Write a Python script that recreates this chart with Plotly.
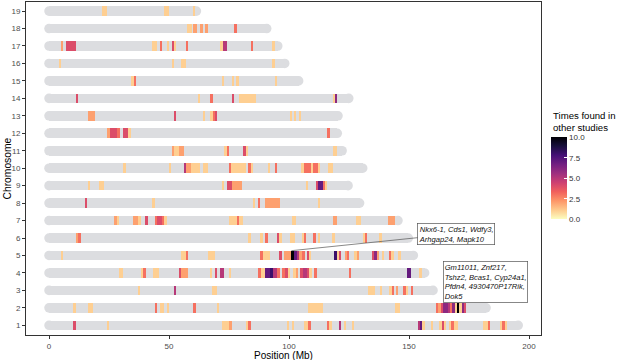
import plotly.graph_objects as go

chromosomes = list(range(1, 20))
chrom_length_mb = [195.5, 182.1, 160.0, 156.5, 151.8, 149.7, 145.4, 129.4, 124.6, 130.7,
                   122.1, 120.1, 120.4, 124.9, 104.0, 98.2, 95.3, 90.7, 61.4]

# (start Mb, end Mb, times found in other studies)
seg_chr1 = [(10.1, 11.1, 4), (24, 25, 1), (72.1, 75.1, 1), (75.1, 76.1, 2), (82.1, 83.1, 1), (83.1, 84, 3),
            (99, 100.1, 1), (101.3, 102.2, 1), (106.3, 108.1, 1), (108.1, 109, 3), (115.8, 116.8, 3),
            (116.8, 117.8, 1), (120.8, 121.8, 5), (122.8, 123.7, 1), (126.1, 127.1, 1), (153.6, 154.6, 5),
            (154.6, 155.6, 7), (155.6, 156.7, 1), (159, 160, 1), (162.6, 163.6, 1), (163.6, 164.6, 4),
            (164.6, 165.6, 1), (166.7, 167.6, 1), (167.6, 168.6, 3), (168.6, 170.5, 1), (181, 182.8, 1),
            (182.8, 183.8, 3), (187.9, 188.9, 1), (188.9, 190, 3), (190, 191, 1)]
seg_chr2 = [(10.1, 11.1, 1), (16.4, 18.2, 1), (44.2, 45.1, 3), (46.1, 48.1, 1), (49, 50, 1), (60.1, 61.1, 3),
            (70.1, 71, 1), (108, 114.3, 1), (144.2, 146.3, 1), (161.1, 162.2, 3), (162.2, 163.2, 2),
            (163.2, 164.2, 4), (164.2, 166.1, 6), (166.1, 167.1, 5), (167.1, 168.1, 3), (168.1, 169.2, 6),
            (169.2, 169.9, 1), (169.9, 171, 10), (171, 172, 1), (172, 173, 6), (173, 173.9, 4)]
seg_chr3 = [(37.1, 38.1, 1), (52.1, 53.1, 5), (68.1, 70, 1), (133, 136, 1), (137.9, 138.9, 1),
            (141.8, 142.8, 1), (142.8, 143.7, 3), (144.6, 145.6, 2), (147.6, 148.6, 3), (148.6, 149.6, 1),
            (150.8, 151.8, 3)]
seg_chr4 = [(29, 31, 1), (38.3, 39.3, 1), (39.3, 40.3, 3), (43.2, 46, 1), (54.2, 55.1, 4), (55.1, 58.1, 2),
            (67.1, 68.1, 1), (69.2, 69.9, 4), (71.25, 73.1, 5), (75, 76, 1), (87.2, 88.2, 3), (88.2, 90.1, 1),
            (90.1, 92.1, 7), (92.1, 93.2, 8), (93.2, 95.1, 5), (95.1, 96.25, 3), (97, 98.3, 3), (98.3, 99.4, 4),
            (99.4, 100.4, 1), (101.8, 102.8, 1), (102.8, 103.9, 2), (104.7, 105.7, 4), (105.7, 107.6, 5),
            (107.6, 108.5, 4), (108.5, 109.4, 1), (110.6, 111.5, 3), (125, 126, 3), (149, 150.8, 7),
            (154.3, 155.3, 1)]
seg_chr5 = [(4.9, 5.8, 1), (55.1, 57.1, 1), (57.1, 58.1, 3), (66.1, 69, 1), (88, 89, 3), (89, 92.1, 1),
            (96, 97, 4), (97.9, 101, 2), (101, 102, 10), (102, 103.2, 7), (103.2, 104.2, 5), (104.2, 105.3, 2),
            (105.3, 106.7, 3), (107.4, 108.3, 4), (108.3, 109.3, 1), (118.9, 119.9, 8), (119.9, 120.8, 1),
            (120.8, 121.8, 4), (123.3, 124.3, 2), (124.3, 125.1, 3), (127.2, 128.2, 1), (128.2, 129.2, 2),
            (134.4, 135.6, 4), (135.6, 136.5, 6), (136.5, 137.5, 2), (138.6, 139.6, 1), (141.7, 142.6, 3),
            (142.6, 143.6, 1), (145.6, 146.5, 1)]
seg_chr6 = [(11.25, 12.2, 2), (12.2, 13.2, 3), (83.1, 84, 1), (88, 89, 1), (90.1, 91.1, 3), (95, 96, 4),
            (96, 97, 1), (100.4, 102.5, 1), (105.3, 106.3, 1), (106.3, 107.2, 3), (110.1, 111.1, 3),
            (112.2, 113, 1), (118, 119, 1), (130.7, 131.7, 1), (131.7, 132.6, 3), (137.6, 138.6, 1)]
seg_chr7 = [(27.1, 28.2, 2), (28.2, 29.2, 1), (35.1, 37.2, 2), (37.2, 38.2, 1), (40.1, 41.1, 4),
            (44.2, 45.1, 3), (45.1, 47.1, 4), (47.1, 48.1, 3), (48.1, 49, 1), (75.1, 78.2, 1), (78.2, 79.2, 3),
            (79.2, 81, 1), (101.1, 103, 1), (118.2, 120.1, 2), (128, 130, 1), (141.1, 144.2, 2)]
seg_chr8 = [(15, 16, 4), (43, 44.2, 1), (85, 86, 1), (87, 88, 3), (90, 96.25, 2), (111.9, 112.9, 1)]
seg_chr9 = [(16.1, 17.1, 1), (21, 23, 1), (72, 73.1, 1), (74, 76.1, 4), (76.1, 80.3, 2), (107, 108, 1),
            (111.1, 112.1, 4), (112.1, 114, 7), (114, 115, 3), (115, 116, 1)]
seg_chr10 = [(31, 32, 1), (50, 51, 1), (56.1, 57.1, 5), (57.1, 59, 2), (59, 63.1, 1), (64.2, 66.1, 1),
             (75, 76, 3), (76, 82.1, 1), (83.1, 84, 3), (84, 85.1, 1), (91.1, 92.1, 1), (94, 95, 3),
             (105, 106.1, 1), (106.1, 107.1, 3), (107.1, 109, 3), (109, 110, 1), (110, 112, 3), (112, 113, 1),
             (116.1, 118.2, 1)]
seg_chr11 = [(51.1, 52.2, 2), (52.2, 54.2, 1), (54.2, 56.1, 2), (73.1, 74, 1), (74, 75, 3), (81, 82, 4),
             (82, 83, 1), (118.2, 120.1, 1)]
seg_chr12 = [(24, 25.4, 2), (25.4, 28.5, 4), (28.5, 29.6, 3), (31, 33, 4), (33, 34, 1), (116, 117, 3)]
seg_chr13 = [(16.1, 19.2, 2), (52.1, 53.1, 4), (64.2, 65.1, 1), (67.2, 68.2, 1), (68.2, 69.2, 3),
             (69.2, 70.1, 4), (100.2, 101.2, 1), (102.1, 103.1, 1), (104.1, 105.1, 1)]
seg_chr14 = [(11.1, 12.1, 4), (62.1, 63.1, 1), (67.2, 68.2, 3), (76.1, 77.1, 4), (79.2, 86.25, 1),
             (118.5, 119.2, 1), (119.2, 120.1, 6)]
seg_chr15 = [(34.3, 35.3, 1), (35.3, 36.3, 3), (72.1, 73.1, 1), (76.1, 77.1, 1), (78.1, 79, 1), (94, 95, 1)]
seg_chr16 = [(4.2, 5.1, 1), (51.3, 52.2, 1), (55.1, 57.1, 1), (93, 94, 1)]
seg_chr17 = [(5, 6, 2), (7.1, 11.1, 4), (43.1, 45.1, 1), (46.1, 47.1, 3), (49.2, 50.1, 1), (51.1, 52.1, 4),
             (52.1, 53, 1), (57.1, 58.1, 3), (71.3, 72.6, 1), (72.6, 74, 5), (84.2, 85.1, 3), (93, 94, 1)]
seg_chr18 = [(57.4, 59.4, 1), (60.1, 61.5, 2), (63.1, 64, 2), (65.1, 66.1, 2), (77.2, 78.2, 3)]
seg_chr19 = [(22.2, 24.3, 1), (48.1, 50.1, 1), (60.1, 61, 1)]

segments_by_chrom = [seg_chr1, seg_chr2, seg_chr3, seg_chr4, seg_chr5, seg_chr6, seg_chr7, seg_chr8,
                     seg_chr9, seg_chr10, seg_chr11, seg_chr12, seg_chr13, seg_chr14, seg_chr15,
                     seg_chr16, seg_chr17, seg_chr18, seg_chr19]

x_ticks = [0, 50, 100, 150, 200]
cbar_ticks = [0, 2.5, 5, 7.5, 10]
cbar_ticktext = ["0.0", "2.5", "5.0", "7.5", "10.0"]
cbar_title = "Times found in<br>other studies"

label_chr5 = "Nkx6-1, Cds1, Wdfy3,<br>Arhgap24, Mapk10"
label_chr5_target = (101, 5)
label_chr2 = "Gm11011, Znf217,<br>Tshz2, Bcas1, Cyp24a1,<br>Pfdn4, 4930470P17Rik,<br>Dok5"
label_chr2_target = (171, 2)

# ---- build ----
FONT = "Liberation Sans, Arial, Helvetica, sans-serif"
GREY = "#dcdde0"
BAR_W = 0.55
CAP_PX = 9.6

seg_y, seg_base, seg_len, seg_val = [], [], [], []
for c, segs in zip(chromosomes, segments_by_chrom):
    for s, e, v in segs:
        seg_y.append(c)
        seg_base.append(s)
        seg_len.append(e - s)
        seg_val.append(v)

fig = go.Figure()
fig.add_trace(go.Bar(
    orientation="h", y=chromosomes, x=chrom_length_mb, base=[0] * len(chromosomes),
    width=BAR_W, marker=dict(color=GREY, line=dict(width=0)), showlegend=False, hoverinfo="skip"))
fig.add_trace(go.Bar(
    orientation="h", y=seg_y, x=seg_len, base=seg_base, width=BAR_W,
    marker=dict(color=seg_val, colorscale="magma_r", cmin=0, cmax=10, line=dict(width=0),
                showscale=True,
                colorbar=dict(
                    xref="container", x=551 / 617, xanchor="left",
                    yref="paper", y=0.47, yanchor="middle",
                    lenmode="pixels", len=82, thickness=16,
                    tickvals=cbar_ticks, ticktext=cbar_ticktext,
                    ticks="inside", ticklen=3, tickcolor="white", tickwidth=1,
                    outlinewidth=0, xpad=0, ypad=0,
                    tickfont=dict(size=8, color="#333333", family=FONT))),
    showlegend=False))

shapes = []
for c, L in zip(chromosomes, chrom_length_mb):
    for xa in (0, L):
        shapes.append(dict(type="circle", layer="below", xref="x", yref="y",
                           xsizemode="pixel", ysizemode="pixel", xanchor=xa, yanchor=c,
                           x0=-CAP_PX / 2, x1=CAP_PX / 2, y0=-CAP_PX / 2, y1=CAP_PX / 2,
                           fillcolor=GREY, line=dict(width=0)))

ann_font = dict(size=7.6, color="#111111", family=FONT)
annotations = [
    dict(x=label_chr5_target[0], y=label_chr5_target[1] + BAR_W / 2, xref="x", yref="y",
         text="<i>" + label_chr5 + "</i>", showarrow=True, arrowhead=0, arrowwidth=0.7,
         arrowcolor="#555555", ax=165, ay=-17, align="left", font=ann_font,
         bordercolor="#555555", borderwidth=0.7, borderpad=1, bgcolor="white", standoff=0),
    dict(x=label_chr2_target[0], y=label_chr2_target[1] + BAR_W / 2, xref="x", yref="y",
         text="<i>" + label_chr2 + "</i>", showarrow=True, arrowhead=0, arrowwidth=0.7,
         arrowcolor="#555555", ax=26, ay=-21, align="left", font=ann_font,
         bordercolor="#555555", borderwidth=0.7, borderpad=1, bgcolor="white", standoff=0),
    dict(text="Position (Mb)", xref="paper", yref="paper", x=0.5, y=0, yshift=-20,
         yanchor="middle", showarrow=False, borderpad=0,
         font=dict(size=10, color="#000000", family=FONT)),
    dict(text="Chromosome", xref="paper", yref="paper", x=0, y=0.5, xshift=-19, textangle=-90,
         xanchor="center", showarrow=False, borderpad=0,
         font=dict(size=10.3, color="#000000", family=FONT)),
    dict(text=cbar_title, xref="paper", yref="paper", x=1, xshift=10, y=1, yshift=-106,
         xanchor="left", yanchor="top", align="left", showarrow=False,
         font=dict(size=9.6, color="#000000", family=FONT)),
]

fig.update_layout(
    width=617, height=360,
    margin=dict(l=26, r=76, t=2, b=25),
    paper_bgcolor="white", plot_bgcolor="white",
    barmode="overlay", bargap=0,
    shapes=shapes, annotations=annotations,
    font=dict(family=FONT, size=8, color="#4d4d4d"),
    xaxis=dict(range=[-9.6, 205], tickvals=x_ticks, showgrid=False, zeroline=False,
               showline=True, linecolor="#333333", linewidth=1, mirror=True,
               ticks="outside", ticklen=3, tickcolor="#333333", automargin=False,
               tickfont=dict(size=8, color="#4d4d4d")),
    yaxis=dict(range=[0.445, 19.52], tickvals=chromosomes, showgrid=False, zeroline=False,
               showline=True, linecolor="#333333", linewidth=1, mirror=True,
               ticks="outside", ticklen=3, tickcolor="#333333", automargin=False,
               tickfont=dict(size=8, color="#4d4d4d")),
)

fig.write_html("out.html", config={"displayModeBar": False},
               post_script="document.body.style.margin='0px';")
